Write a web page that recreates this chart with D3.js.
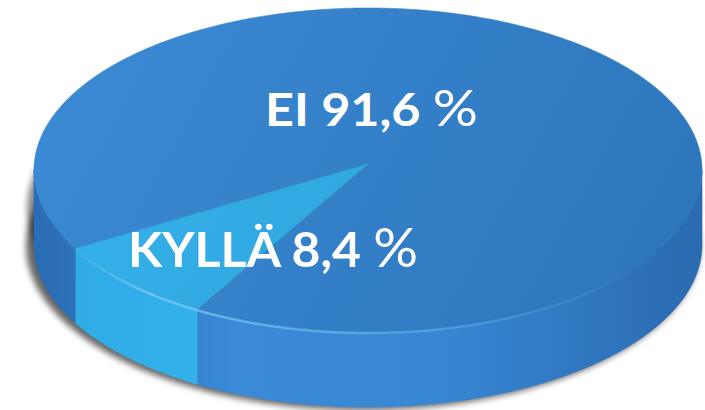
<!DOCTYPE html>
<html><head><meta charset="utf-8">
<script src="https://cdn.jsdelivr.net/npm/d3@7"></script>
<style>html,body{margin:0;padding:0;background:#fff;}svg{display:block;}</style>
</head><body>
<svg id="c" width="705" height="410"></svg>
<script>
const categories = ["EI", "KYLLÄ"];
const values = [91.6, 8.4];
const valueLabels = ["91,6", "8,4"];

const W = 705, H = 410;
const cx = 368, cy = 170, rx = 334, ry = 162, depth = 75;
const svg = d3.select("#c");
const defs = svg.append("defs");

const topColors = {EI: ["#3b8ad4", "#2d76bc"], "KYLLÄ": ["#36b3eb", "#2b9dd8"]};
const sideColors = {EI: ["#2a6cb4", "#3a8ad8", "#3887d4", "#2a6ab0"], "KYLLÄ": ["#2fa9e3", "#33b3ec", "#33b3ec", "#2fa9e3"]};

categories.forEach((c, i) => {
  const g = defs.append("linearGradient").attr("id", "top" + i)
    .attr("gradientUnits", "userSpaceOnUse").attr("x1", 80).attr("y1", 20).attr("x2", 640).attr("y2", 320);
  g.append("stop").attr("offset", 0).attr("stop-color", topColors[c][0]);
  g.append("stop").attr("offset", 1).attr("stop-color", topColors[c][1]);
  const s = defs.append("linearGradient").attr("id", "side" + i)
    .attr("gradientUnits", "userSpaceOnUse").attr("x1", cx - rx).attr("y1", 0).attr("x2", cx + rx).attr("y2", 0);
  [[0, 0], [0.3, 1], [0.6, 2], [1, 3]].forEach(([o, k]) => s.append("stop").attr("offset", o).attr("stop-color", sideColors[c][k]));
});
const hl = defs.append("linearGradient").attr("id", "hl").attr("gradientUnits", "userSpaceOnUse")
  .attr("x1", 60).attr("y1", 0).attr("x2", 660).attr("y2", 0);
[[0, 0], [0.15, 0.8], [0.45, 0.5], [0.75, 0.25], [1, 0]].forEach(([o, a]) =>
  hl.append("stop").attr("offset", o).attr("stop-color", "#7cc6f5").attr("stop-opacity", a));
const f = defs.append("filter").attr("id", "blur").attr("x", "-20%").attr("y", "-20%").attr("width", "140%").attr("height", "140%");
f.append("feGaussianBlur").attr("stdDeviation", 3);

const pt = (a, dy = 0) => [cx + rx * Math.sin(a), cy - ry * Math.cos(a) + dy];

const pie = d3.pie().sort(null).startAngle(241 * Math.PI / 180).endAngle(241 * Math.PI / 180 + 2 * Math.PI);
const arcs = pie(values);

const ellipsePath = (ox, oy, ex, ey) => d3.line()(d3.range(0, 361, 3).map(d => {
  const a = d * Math.PI / 180; return [cx + ox + (rx + ex) * Math.sin(a), cy + oy - (ry + ey) * Math.cos(a)];
})) + "Z";

// shadow
svg.append("path").attr("d", ellipsePath(-5, depth + 1, 3, 2))
  .attr("fill", "#000").attr("opacity", 0.6).attr("filter", "url(#blur)");
svg.append("path").attr("d", ellipsePath(-5, depth / 2, 2, 0))
  .attr("fill", "#000").attr("opacity", 0.45).attr("filter", "url(#blur)");

// sides
const sampleRange = (a0, a1) => {
  const n = Math.max(2, Math.ceil((a1 - a0) / 0.01));
  return d3.range(n + 1).map(k => a0 + (a1 - a0) * k / n);
};
arcs.forEach((d, i) => {
  for (let k = 0; k < 3; k++) {
    const lo = Math.max(d.startAngle, Math.PI / 2 + 2 * Math.PI * k);
    const hi = Math.min(d.endAngle, 3 * Math.PI / 2 + 2 * Math.PI * k);
    if (hi <= lo) continue;
    const as = sampleRange(lo, hi);
    const pts = as.map(a => pt(a)).concat(as.slice().reverse().map(a => pt(a, depth)));
    svg.append("path").attr("d", d3.line()(pts) + "Z").attr("fill", `url(#side${i})`)
      .attr("stroke", `url(#side${i})`).attr("stroke-width", 0.6);
  }
});

// tops
arcs.forEach((d, i) => {
  const as = sampleRange(d.startAngle, d.endAngle);
  const pts = [[cx, cy - 6]].concat(as.map(a => pt(a)));
  svg.append("path").attr("d", d3.line()(pts) + "Z").attr("fill", `url(#top${i})`)
    .attr("stroke", `url(#top${i})`).attr("stroke-width", 0.6);
});

// front rim highlight
svg.append("path")
  .attr("d", d3.line()(sampleRange(Math.PI * 0.62, Math.PI * 1.4).map(a => pt(a, 1))))
  .attr("fill", "none").attr("stroke", "url(#hl)").attr("stroke-width", 2.5);

// labels
const lab = [
  {x: 265, y: 126, size: 45, width: 213},
  {x: 128, y: 267, size: 48, width: 290}
];
categories.forEach((c, i) => {
  const t = svg.append("text").attr("x", lab[i].x).attr("y", lab[i].y)
    .attr("font-family", "Lato, 'Open Sans', sans-serif").attr("font-size", lab[i].size)
    .attr("fill", "#fff").attr("font-weight", 700)
    .attr("textLength", lab[i].width).attr("lengthAdjust", "spacingAndGlyphs");
  t.append("tspan").text(c + " " + valueLabels[i] + " ");
  t.append("tspan").attr("font-weight", 400).attr("font-size", lab[i].size * 1.12).text("%");
});
</script>
</body></html>
